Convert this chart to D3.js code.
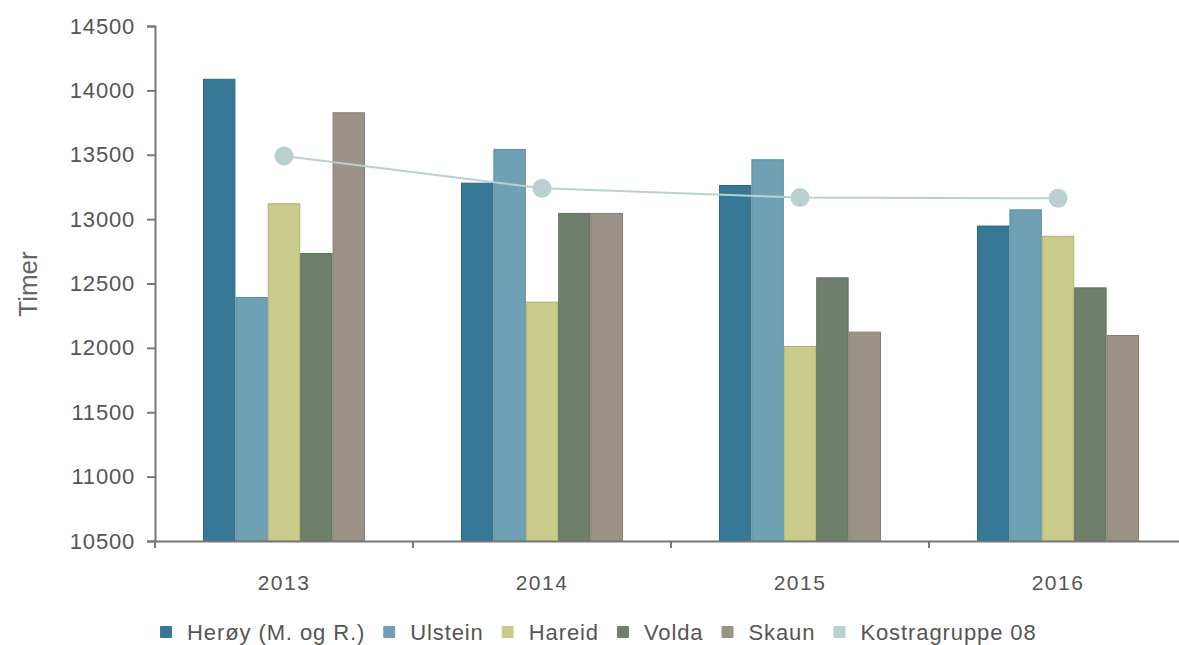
<!DOCTYPE html>
<html>
<head>
<meta charset="utf-8">
<title>Timer</title>
<script src="https://cdn.jsdelivr.net/npm/d3@7"></script>
<style>
body { margin: 0; background: #fff; font-family: 'Liberation Sans', Arial, sans-serif; }
.tick text { fill: #555; }
</style>
</head>
<body>
<script>
// data
var years = ["2013", "2014", "2015", "2016"];
var kommuner = ["Herøy (M. og R.)", "Ulstein", "Hareid", "Volda", "Skaun"];
var heroy   = [14090, 13283, 13265, 12950];
var ulstein = [12395, 13545, 13465, 13076];
var hareid  = [13123, 12359, 12015, 12871];
var volda   = [12737, 13048, 12548, 12470];
var skaun   = [13830, 13048, 12126, 12100];
var kostra  = [13490, 13239, 13167, 13162];
var kostraName = "Kostragruppe 08";
var yTicks = [10500, 11000, 11500, 12000, 12500, 13000, 13500, 14000, 14500];

var barSeries = [heroy, ulstein, hareid, volda, skaun];
var colors = ["#367895", "#6fa0b3", "#c9cb8b", "#6e806c", "#9a9187"];
var lineColor = "#b9d0d0";

var w = 1179, h = 645;
var svg = d3.select("body").append("svg").attr("width", w).attr("height", h);

var x0 = d3.scaleBand().domain(years).range([155, 1187]).paddingInner(0.372).paddingOuter(0.186);
var x1 = d3.scaleBand().domain(d3.range(kommuner.length)).range([0, x0.bandwidth()]);
var y = d3.scaleLinear().domain([10500, 14500]).range([541, 26]);

// bars
var groups = svg.append("g").selectAll("g")
  .data(years)
  .enter().append("g")
  .attr("transform", function(d){ return "translate(" + x0(d) + ",0)"; });

groups.selectAll("rect")
  .data(function(d, i){ return barSeries.map(function(s, k){ return {k: k, v: s[i]}; }); })
  .enter().append("rect")
  .attr("x", function(d){ return x1(d.k) + 0.5; })
  .attr("width", x1.bandwidth() - 1)
  .attr("y", function(d){ return y(d.v) + 0.5; })
  .attr("height", function(d){ return y(10500) - y(d.v) - 0.5; })
  .attr("fill", function(d){ return colors[d.k]; })
  .attr("stroke", function(d){ return d3.color(colors[d.k]).darker(0.4); })
  .attr("stroke-width", 1);

// axes
var yAxis = svg.append("g")
  .attr("transform", "translate(155,0)")
  .call(d3.axisLeft(y).tickValues(yTicks).tickSize(8).tickPadding(12).tickFormat(d3.format("d")));
yAxis.selectAll("text").style("font-size", "22px").style("letter-spacing", "0.8px");

var xAxis = svg.append("g")
  .attr("transform", "translate(0,541)")
  .call(d3.axisBottom(x0).tickSize(0).tickPadding(34));
xAxis.selectAll("text").style("font-size", "21px").style("letter-spacing", "1.5px");
// tick marks at band edges
xAxis.selectAll("line.edge")
  .data(years.concat(["end"]))
  .enter().append("line")
  .attr("class", "edge")
  .attr("x1", function(d, i){ return 155 + i * x0.step(); })
  .attr("x2", function(d, i){ return 155 + i * x0.step(); })
  .attr("y1", 0).attr("y2", 7)
  .attr("stroke", "#777").attr("stroke-width", 2);

svg.selectAll(".domain").attr("stroke", "#777").attr("stroke-width", 2);
svg.selectAll(".tick line").attr("stroke", "#777").attr("stroke-width", 2);

// y label
svg.append("text")
  .attr("transform", "translate(37,284) rotate(-90)")
  .attr("text-anchor", "middle")
  .style("font-size", "26px")
  .attr("fill", "#666")
  .text("Timer");

// line series
var line = d3.line()
  .x(function(d, i){ return x0(years[i]) + x0.bandwidth() / 2; })
  .y(function(d){ return y(d); });

svg.append("path")
  .datum(kostra)
  .attr("d", line)
  .attr("fill", "none")
  .attr("stroke", lineColor)
  .attr("stroke-width", 2);

svg.append("g").selectAll("circle")
  .data(kostra)
  .enter().append("circle")
  .attr("cx", function(d, i){ return x0(years[i]) + x0.bandwidth() / 2; })
  .attr("cy", function(d){ return y(d); })
  .attr("r", 9.5)
  .attr("fill", lineColor);

// legend
var legendNames = kommuner.concat([kostraName]);
var legendColors = colors.concat([lineColor]);
var legend = svg.append("g");
var lx = 160;
legendNames.forEach(function(name, i){
  legend.append("rect")
    .attr("x", lx).attr("y", 626).attr("width", 12).attr("height", 12)
    .attr("rx", 1)
    .attr("fill", legendColors[i]);
  var t = legend.append("text")
    .attr("x", lx + 27).attr("y", 640)
    .style("font-size", "22px")
    .style("letter-spacing", "0.9px")
    .attr("fill", "#555")
    .text(name);
  lx += 27 + t.node().getComputedTextLength() + 18;
});
</script>
</body>
</html>
